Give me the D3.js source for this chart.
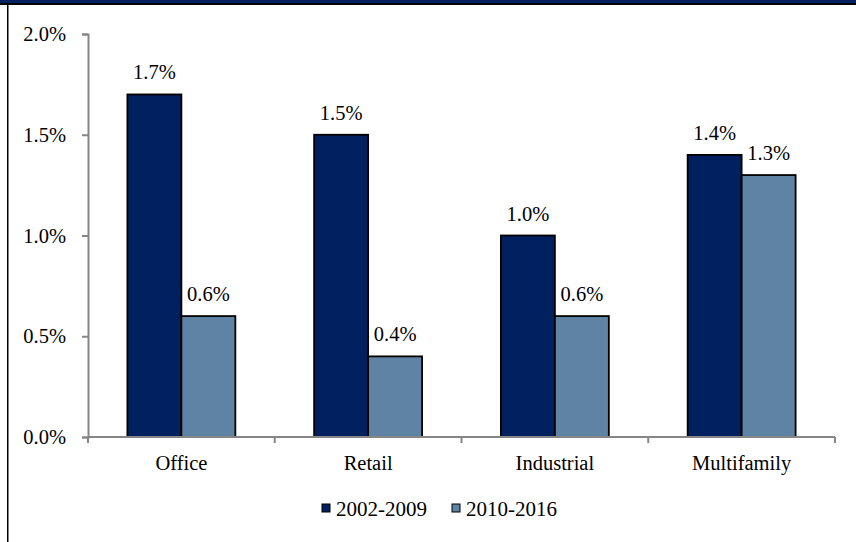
<!DOCTYPE html>
<html>
<head>
<meta charset="utf-8">
<script src="https://cdn.jsdelivr.net/npm/d3@7/dist/d3.min.js"></script>
<style>
  html, body { margin: 0; padding: 0; background: #fff; }
  svg text { font-family: "Liberation Serif", "Times New Roman", Times, serif !important; }
</style>
</head>
<body>
<svg id="chart" width="856" height="542"></svg>
<script>
// Average annual growth by property type, two periods
const categories = ["Office", "Retail", "Industrial", "Multifamily"];
const seriesNames = ["2002-2009", "2010-2016"];
const values2002_2009 = [1.7, 1.5, 1.0, 1.4];
const values2010_2016 = [0.6, 0.4, 0.6, 1.3];
const yTicks = [0, 0.5, 1.0, 1.5, 2.0];
const colors = ["#002060", "#5F83A4"];

const svg = d3.select("#chart");
const W = 856, H = 542;

// Frame: navy band + black rule at top, black rule down the left side
svg.append("rect").attr("x", 0).attr("y", 0).attr("width", W).attr("height", 3).attr("fill", "#002060");
svg.append("rect").attr("x", 0).attr("y", 3).attr("width", W).attr("height", 2).attr("fill", "#000");
svg.append("rect").attr("x", 7).attr("y", 3).attr("width", 1.5).attr("height", H - 3).attr("fill", "#000");

const plot = { left: 88, right: 835, top: 34, bottom: 437 };

const x = d3.scaleBand().domain(categories).range([plot.left, plot.right]).paddingInner(0).paddingOuter(0);
const xInner = d3.scaleBand().domain(seriesNames).range([0, x.bandwidth()]).paddingInner(0).paddingOuter(0.73);
const y = d3.scaleLinear().domain([0, 2.0]).range([plot.bottom, plot.top]);

const fmt = d => d3.format(".1f")(d) + "%";
const axisColor = "#868686";
const serif = "Liberation Serif, Times New Roman, serif";
const fs = 20.5;

// Bars
const rows = categories.map((c, i) => ({ cat: c, vals: [values2002_2009[i], values2010_2016[i]] }));
const groups = svg.append("g").selectAll("g").data(rows).join("g")
  .attr("transform", d => `translate(${x(d.cat)},0)`);

groups.selectAll("rect").data(d => d.vals.map((v, j) => ({ v, s: seriesNames[j], j })))
  .join("rect")
  .attr("x", d => xInner(d.s))
  .attr("y", d => y(d.v))
  .attr("width", xInner.bandwidth())
  .attr("height", d => y(0) - y(d.v))
  .attr("fill", d => colors[d.j])
  .attr("stroke", "#000")
  .attr("stroke-width", 1.8);

// Value labels
groups.selectAll("text").data(d => d.vals.map((v, j) => ({ v, s: seriesNames[j] })))
  .join("text")
  .attr("x", d => xInner(d.s) + xInner.bandwidth() / 2)
  .attr("y", d => y(d.v) - 15)
  .attr("text-anchor", "middle")
  .attr("font-family", serif)
  .attr("font-size", fs)
  .attr("fill", "#000")
  .text(d => fmt(d.v));

// Y axis
const yAxis = svg.append("g").attr("transform", `translate(${plot.left},0)`)
  .call(d3.axisLeft(y).tickValues(yTicks).tickFormat(fmt).tickSize(6).tickPadding(16));
yAxis.attr("font-family", serif).attr("font-size", fs);
yAxis.select(".domain").attr("stroke", axisColor).attr("stroke-width", 2);
yAxis.selectAll(".tick line").attr("stroke", axisColor).attr("stroke-width", 2);
yAxis.selectAll(".tick text").attr("fill", "#000");

// X axis: baseline with ticks at category boundaries
const xAxisG = svg.append("g");
xAxisG.append("line")
  .attr("x1", plot.left).attr("x2", plot.right)
  .attr("y1", y(0)).attr("y2", y(0))
  .attr("stroke", axisColor).attr("stroke-width", 2);
const bounds = categories.map(c => x(c)).concat([plot.right]);
xAxisG.selectAll("line.tk").data(bounds).join("line")
  .attr("class", "tk")
  .attr("x1", d => d).attr("x2", d => d)
  .attr("y1", y(0)).attr("y2", y(0) + 6)
  .attr("stroke", axisColor).attr("stroke-width", 2);
xAxisG.selectAll("text").data(categories).join("text")
  .attr("x", d => x(d) + x.bandwidth() / 2)
  .attr("y", 470)
  .attr("text-anchor", "middle")
  .attr("font-family", serif)
  .attr("font-size", fs)
  .attr("fill", "#000")
  .text(d => d);

// Legend
const legendX = [322, 452];
const legend = svg.append("g").selectAll("g").data(seriesNames).join("g")
  .attr("transform", (d, i) => `translate(${legendX[i]},504)`);
legend.append("rect")
  .attr("width", 8).attr("height", 8)
  .attr("fill", (d, i) => colors[i])
  .attr("stroke", "#000").attr("stroke-width", 1);
legend.append("text")
  .attr("x", 14).attr("y", 12)
  .attr("font-family", serif)
  .attr("font-size", 21)
  .attr("fill", "#000")
  .text(d => d);
</script>
</body>
</html>
